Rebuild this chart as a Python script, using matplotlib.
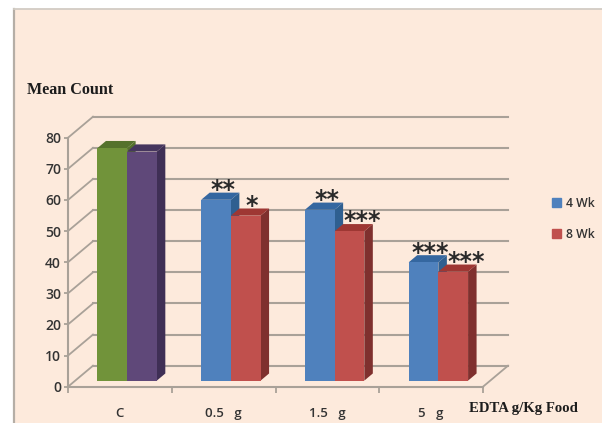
#!/usr/bin/env python
"Mean count per EDTA dose, drawn as a fake 3D clustered bar chart"

import matplotlib as mpl
mpl.use( 'Agg' )
import matplotlib.pyplot as plt
from matplotlib.patches import Patch, Rectangle

W, H = 602, 423

# Data
categories = ['C', '0.5   g', '1.5   g', '5   g']
values_4wk = [74.7, 58.1, 54.9, 38.0]
values_8wk = [73.6, 53.0, 48.0, 35.0]
stars_4wk = ['', '**', '**', '***']
stars_8wk = ['', '*', '***', '***']
yticks = [0, 10, 20, 30, 40, 50, 60, 70, 80]

# Colours: (front, side, top)
green = ( '#71933A', '#55722C', '#55722C' )
purple = ( '#5F4879', '#3F2F55', '#46365E' )
blue = ( '#4F81BD', '#2F5F90', '#3567A0' )
red = ( '#C0504D', '#7F302E', '#9E3733' )
colors_4wk = [green, blue, blue, blue]
colors_8wk = [purple, red, red, red]
grid_color = '#A9A198'
background = '#FDEADC'

# Pixel box of the front of the chart floor
left, right, y_zero, y_top = 68.0, 483.0, 386.7, 137.7
px_per_cat = ( right - left ) / len( categories )
px_per_val = ( y_zero - y_top ) / yticks[-1]

# Full depth of the walls in pixels, bars sit between depth d0 and d1
depth_x, depth_y = 25.0, 21.0
d0, d1 = 0.29, 0.63
bar_width = 29.7 / px_per_cat


def proj( x, v, d ):
    "Move a data point back by depth d (0 front, 1 back wall)"
    return x + d * depth_x / px_per_cat, v + d * depth_y / px_per_val


def draw_bar( ax, x, value, colors, z ):
    x0, x1 = x, x + bar_width
    a = proj( x1, 0, d0 )
    b = proj( x1, value, d0 )
    c = proj( x1, value, d1 )
    e = proj( x1, 0, d1 )
    ax.fill( [a[0], b[0], c[0], e[0]], [a[1], b[1], c[1], e[1]],
             color=colors[1], lw=0, zorder=z )
    f = proj( x0, value, d0 )
    g = proj( x0, value, d1 )
    ax.fill( [f[0], b[0], c[0], g[0]], [f[1], b[1], c[1], g[1]],
             color=colors[2], lw=0, zorder=z )
    ax.bar( f[0], value, width=bar_width, bottom=proj( 0, 0, d0 )[1], align='edge',
            color=colors[0], lw=0, zorder=z + 0.5 )


def put_stars( ax, x, value, text, nudge, z ):
    if not text:
        return
    sx, sy = proj( x + bar_width / 2, value, d0 )
    ax.annotate( text, ( sx, sy ), xytext=( nudge, 2 ), textcoords='offset points',
                 ha='center', va='baseline', fontsize=17, weight='bold', color='#2a2a2a',
                 family='DejaVu Sans', zorder=z, annotation_clip=False )


fig = plt.figure( figsize=( W / 100, H / 100 ), dpi=100, facecolor='white' )

# Slide background with its grey border, kept behind the axes
fig.add_artist( Rectangle( ( 14 / W, 0 ), ( W - 14 ) / W, ( H - 9 ) / H, transform=fig.transFigure,
                           facecolor=background, edgecolor='none', zorder=-3 ) )
fig.add_artist( plt.Line2D( [14 / W, 14 / W], [0, ( H - 9 ) / H], color='#B5AEA6', lw=1.6, zorder=-2 ) )
fig.add_artist( plt.Line2D( [14 / W, 1], [( H - 9 ) / H, ( H - 9 ) / H], color='#D2CCC4', lw=1.3, zorder=-2 ) )

ax = fig.add_axes( [left / W, ( H - y_zero ) / H, ( right - left ) / W, ( y_zero - y_top ) / H] )
ax.patch.set_alpha( 0 )
ax.set_xlim( 0, len( categories ) )
ax.set_ylim( yticks[0], yticks[-1] )
for name in ['top', 'right']:
    ax.spines[name].set_visible( False )
for name in ['left', 'bottom']:
    ax.spines[name].set_color( grid_color )
    ax.spines[name].set_linewidth( 1.5 )

# Walls and floor
for v in yticks:
    back_l = proj( 0, v, 1 )
    back_r = proj( len( categories ), v, 1 )
    ax.plot( [0, back_l[0]], [v, back_l[1]], color=grid_color, lw=1.3, clip_on=False, zorder=1 )
    ax.plot( [back_l[0], back_r[0]], [back_l[1], back_r[1]], color=grid_color, lw=1.5,
             clip_on=False, zorder=1 )
floor_r = proj( len( categories ), 0, 1 )
ax.plot( [len( categories ), floor_r[0]], [0, floor_r[1]], color=grid_color, lw=1.3,
         clip_on=False, zorder=1 )

# Bars, left to right so each one covers the side of its neighbour
for i in range( len( categories ) ):
    xa = i + 0.5 - bar_width
    xb = i + 0.5
    draw_bar( ax, xa, values_4wk[i], colors_4wk[i], 3 + i )
    draw_bar( ax, xb, values_8wk[i], colors_8wk[i], 4 + i )
    put_stars( ax, xa, values_4wk[i], stars_4wk[i], 5, 20 )
    put_stars( ax, xb, values_8wk[i], stars_8wk[i], 9.5 if stars_8wk[i] == '***' else 4, 20 )

ax.set_yticks( yticks )
ax.set_xticks( range( len( categories ) + 1 ) )
ax.set_xticklabels( [] )
ax.set_xticks( [i + 0.5 for i in range( len( categories ) )], labels=categories, minor=True )
ax.tick_params( axis='y', length=3, width=1.3, color=grid_color, pad=2, labelsize=10,
                labelcolor='#333333' )
ax.tick_params( axis='x', which='major', length=4.5, width=1.3, color=grid_color )
ax.tick_params( axis='x', which='minor', length=0, pad=14.5, labelsize=9.5, labelcolor='#333333' )
for label in ax.get_yticklabels() + ax.get_xticklabels( minor=True ):
    label.set_family( 'Open Sans' )
    label.set_weight( 600 )

fig.text( 27 / W, 1 - 90 / H, 'Mean Count', family='Liberation Serif', weight='bold',
          fontsize=11.6, color='#1c1c1c', va='center' )
fig.text( 469 / W, 1 - 408 / H, 'EDTA g/Kg Food', family='Liberation Serif', weight='bold',
          fontsize=10.6, color='#1c1c1c', va='center' )

handles = [Patch( color=blue[0], label='4 Wk' ), Patch( color=red[0], label='8 Wk' )]
fig.legend( handles=handles, loc='center left', bbox_to_anchor=( 540.5 / W, 1 - 219 / H ),
            frameon=False, handlelength=0.75, handleheight=0.75, handletextpad=0.45,
            labelspacing=1.45, prop={'family': 'Open Sans', 'size': 8.8, 'weight': 600},
            labelcolor='#333333' )

fig.savefig( 'out.png', dpi=100, facecolor='white' )
